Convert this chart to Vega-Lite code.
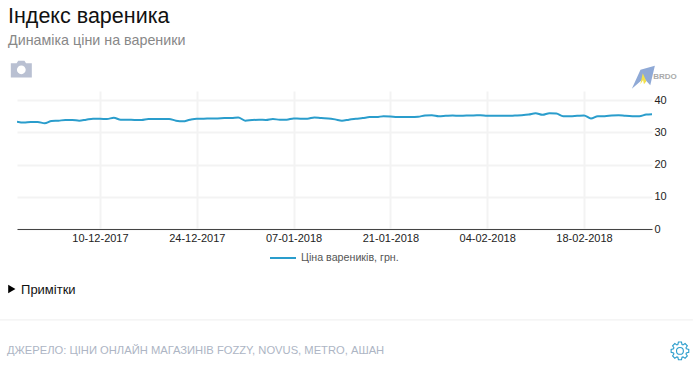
{
"$schema":"https://vega.github.io/schema/vega-lite/v6.json",
"width":635,"height":138,
"autosize":{"type":"none"},
"padding":{"left":17,"top":91,"right":41,"bottom":137},
"background":"white",
"config":{"view":{"stroke":null},"font":"Liberation Sans"},
"title":{"text":"Індекс вареника","subtitle":"Динаміка ціни на вареники","anchor":"start","frame":"group","dx":-9,"offset":12,"font":"Liberation Sans","fontSize":21.5,"fontWeight":"normal","color":"#111111","subtitleFont":"Liberation Sans","subtitleFontSize":14.3,"subtitleColor":"#888888","subtitlePadding":7},
"datasets":{"prices":[
{"date":"2017-11-28","price":33.3},{"date":"2017-11-29","price":33.0},{"date":"2017-11-30","price":33.2},{"date":"2017-12-01","price":33.2},{"date":"2017-12-02","price":32.8},{"date":"2017-12-03","price":33.5},{"date":"2017-12-04","price":33.6},{"date":"2017-12-05","price":33.8},{"date":"2017-12-06","price":33.8},{"date":"2017-12-07","price":33.6},{"date":"2017-12-08","price":33.9},{"date":"2017-12-09","price":34.2},{"date":"2017-12-10","price":34.2},{"date":"2017-12-11","price":34.1},{"date":"2017-12-12","price":34.5},{"date":"2017-12-13","price":33.9},{"date":"2017-12-14","price":33.9},{"date":"2017-12-15","price":33.8},{"date":"2017-12-16","price":33.8},{"date":"2017-12-17","price":34.1},{"date":"2017-12-18","price":34.1},{"date":"2017-12-19","price":34.1},{"date":"2017-12-20","price":34.1},{"date":"2017-12-21","price":33.6},{"date":"2017-12-22","price":33.4},{"date":"2017-12-23","price":33.9},{"date":"2017-12-24","price":34.2},{"date":"2017-12-25","price":34.2},{"date":"2017-12-26","price":34.3},{"date":"2017-12-27","price":34.3},{"date":"2017-12-28","price":34.4},{"date":"2017-12-29","price":34.4},{"date":"2017-12-30","price":34.6},{"date":"2017-12-31","price":33.6},{"date":"2018-01-01","price":33.8},{"date":"2018-01-02","price":33.9},{"date":"2018-01-03","price":33.8},{"date":"2018-01-04","price":34.1},{"date":"2018-01-05","price":33.9},{"date":"2018-01-06","price":33.9},{"date":"2018-01-07","price":34.3},{"date":"2018-01-08","price":34.2},{"date":"2018-01-09","price":34.2},{"date":"2018-01-10","price":34.6},{"date":"2018-01-11","price":34.4},{"date":"2018-01-12","price":34.3},{"date":"2018-01-13","price":34.0},{"date":"2018-01-14","price":33.6},{"date":"2018-01-15","price":33.9},{"date":"2018-01-16","price":34.2},{"date":"2018-01-17","price":34.4},{"date":"2018-01-18","price":34.7},{"date":"2018-01-19","price":34.7},{"date":"2018-01-20","price":35.0},{"date":"2018-01-21","price":34.9},{"date":"2018-01-22","price":34.7},{"date":"2018-01-23","price":34.7},{"date":"2018-01-24","price":34.7},{"date":"2018-01-25","price":34.8},{"date":"2018-01-26","price":35.2},{"date":"2018-01-27","price":35.3},{"date":"2018-01-28","price":35.0},{"date":"2018-01-29","price":35.1},{"date":"2018-01-30","price":35.2},{"date":"2018-01-31","price":35.1},{"date":"2018-02-01","price":35.2},{"date":"2018-02-02","price":35.2},{"date":"2018-02-03","price":35.3},{"date":"2018-02-04","price":35.1},{"date":"2018-02-05","price":35.1},{"date":"2018-02-06","price":35.1},{"date":"2018-02-07","price":35.1},{"date":"2018-02-08","price":35.2},{"date":"2018-02-09","price":35.3},{"date":"2018-02-10","price":35.5},{"date":"2018-02-11","price":35.9},{"date":"2018-02-12","price":35.4},{"date":"2018-02-13","price":35.9},{"date":"2018-02-14","price":35.8},{"date":"2018-02-15","price":35.0},{"date":"2018-02-16","price":35.0},{"date":"2018-02-17","price":35.1},{"date":"2018-02-18","price":35.2},{"date":"2018-02-19","price":34.3},{"date":"2018-02-20","price":35.0},{"date":"2018-02-21","price":35.0},{"date":"2018-02-22","price":35.2},{"date":"2018-02-23","price":35.3},{"date":"2018-02-24","price":35.1},{"date":"2018-02-25","price":35.0},{"date":"2018-02-26","price":35.0},{"date":"2018-02-27","price":35.5},{"date":"2018-02-28","price":35.6}
]},
"data":{"name":"prices"},
"layer":[
{
"transform":[{"calculate":"'Ціна вареників, грн.'","as":"series"}],
"mark":{"type":"line","clip":true,"strokeWidth":2,"interpolate":"monotone"},
"encoding":{
"x":{"field":"date","type":"temporal","title":null,
"scale":{"type":"utc","domain":[{"year":2017,"month":11,"date":28,"utc":true},{"year":2018,"month":2,"date":27,"hours":20,"utc":true}]},
"axis":{"values":[{"year":2017,"month":12,"date":10,"utc":true},{"year":2017,"month":12,"date":24,"utc":true},{"year":2018,"month":1,"date":7,"utc":true},{"year":2018,"month":1,"date":21,"utc":true},{"year":2018,"month":2,"date":4,"utc":true},{"year":2018,"month":2,"date":18,"utc":true}],
"labelExpr":"utcFormat(datum.value,'%d-%m-%Y')","labelFontSize":11,"labelFont":"Liberation Sans","labelColor":"#222222","labelPadding":3,"ticks":false,"domainColor":"#444444","domainWidth":1,"grid":true,"gridColor":"#f3f3f3","gridWidth":2,"labelOverlap":false}},
"y":{"field":"price","type":"quantitative","title":null,
"scale":{"domain":[0,42.8],"nice":false},
"axis":{"orient":"right","values":[0,10,20,30,40],"tickCount":10,"labelOverlap":false,"labelFontSize":11,"labelFont":"Liberation Sans","labelColor":"#222222","labelPadding":2,"ticks":false,"domain":false,"grid":true,"gridColor":"#f3f3f3","gridWidth":2}},
"color":{"field":"series","type":"nominal","scale":{"range":["#2a9dcc"]},
"legend":{"title":null,"orient":"none","legendX":252,"legendY":153,"symbolType":"stroke","symbolSize":676,"symbolStrokeWidth":2,"labelFontSize":10.7,"labelFont":"Liberation Sans","labelColor":"#555555","labelOffset":4}}
}
},
{"data":{"values":[{}]},"mark":{"type":"rule","color":"#eeeeee","strokeWidth":1},
"encoding":{"x":{"datum":{"year":2017,"month":11,"date":25,"hours":11,"utc":true},"type":"temporal"},"x2":{"datum":{"year":2018,"month":3,"date":5,"hours":18,"utc":true}},"y":{"datum":-28.2,"type":"quantitative"}}},
{"data":{"values":[{}]},"mark":{"type":"point","filled":true,"fill":"#000000","opacity":1,"size":70,"shape":"triangle-right"},
"encoding":{"x":{"datum":{"year":2017,"month":11,"date":27,"hours":6,"utc":true},"type":"temporal"},"y":{"datum":-18.6,"type":"quantitative"}}},
{"data":{"values":[{}]},"mark":{"type":"text","text":"Примітки","align":"left","baseline":"middle","fontSize":13,"color":"#111111"},
"encoding":{"x":{"datum":{"year":2017,"month":11,"date":28,"hours":14,"utc":true},"type":"temporal"},"y":{"datum":-18.9,"type":"quantitative"}}},
{"data":{"values":[{}]},"mark":{"type":"text","text":"ДЖЕРЕЛО: ЦІНИ ОНЛАЙН МАГАЗИНІВ FOZZY, NOVUS, METRO, АШАН","align":"left","baseline":"middle","fontSize":11.2,"color":"#adb5c4"},
"encoding":{"x":{"datum":{"year":2017,"month":11,"date":26,"hours":13,"utc":true},"type":"temporal"},"y":{"datum":-37.8,"type":"quantitative"}}},
{"data":{"values":[{}]},"mark":{"type":"point","filled":true,"fill":"#b9c0d2","opacity":1,"size":441,"shape":"M-1,-0.55 L-0.45,-0.55 L-0.3,-0.8 L0.3,-0.8 L0.45,-0.55 L1,-0.55 L1,0.8 L-1,0.8 Z M0,-0.35 A0.42,0.42 0 1 0 0,0.49 A0.42,0.42 0 1 0 0,-0.35 Z"},
"encoding":{"x":{"datum":{"year":2017,"month":11,"date":28,"hours":15,"utc":true},"type":"temporal"},"y":{"datum":49.6,"type":"quantitative"}}},
{"data":{"values":[{}]},"mark":{"type":"point","filled":true,"fill":"#8fa9d6","opacity":1,"size":529,"shape":"M-1,1 L-0.25,-0.65 L1,-1 L0.6,0.7 L0.05,0.1 Z"},
"encoding":{"x":{"datum":{"year":2018,"month":2,"date":26,"hours":14,"utc":true},"type":"temporal"},"y":{"datum":47.1,"type":"quantitative"}}},
{"data":{"values":[{}]},"mark":{"type":"point","filled":true,"fill":"#f2e14c","opacity":1,"size":144,"shape":"M-0.5,0.9 L-0.1,-0.9 L0.5,0.4 L0.1,0.9 L-0.05,0.2 Z"},
"encoding":{"x":{"datum":{"year":2018,"month":2,"date":26,"hours":14,"utc":true},"type":"temporal"},"y":{"datum":46.6,"type":"quantitative"}}},
{"data":{"values":[{}]},"mark":{"type":"text","text":"BRDO","align":"left","baseline":"middle","fontSize":8,"fontWeight":"bold","color":"#aaaaaa"},
"encoding":{"x":{"datum":{"year":2018,"month":2,"date":28,"utc":true},"type":"temporal"},"y":{"datum":47.1,"type":"quantitative"}}},
{"data":{"values":[{}]},"mark":{"type":"point","filled":false,"fill":null,"stroke":"#2a9dcc","strokeWidth":1.1,"opacity":1,"size":324,"shape":"M0.71,-0.23 L0.98,-0.17 L0.98,0.17 L0.71,0.23 L0.67,0.34 L0.82,0.57 L0.57,0.82 L0.34,0.67 L0.23,0.71 L0.17,0.98 L-0.17,0.98 L-0.23,0.71 L-0.34,0.67 L-0.57,0.82 L-0.82,0.57 L-0.67,0.34 L-0.71,0.23 L-0.98,0.17 L-0.98,-0.17 L-0.71,-0.23 L-0.67,-0.34 L-0.82,-0.57 L-0.57,-0.82 L-0.34,-0.67 L-0.23,-0.71 L-0.17,-0.98 L0.17,-0.98 L0.23,-0.71 L0.34,-0.67 L0.57,-0.82 L0.82,-0.57 L0.67,-0.34 Z M0.38,0 A0.38,0.38 0 1 1 -0.38,0 A0.38,0.38 0 1 1 0.38,0 Z"},
"encoding":{"x":{"datum":{"year":2018,"month":3,"date":3,"hours":21,"utc":true},"type":"temporal"},"y":{"datum":-37.8,"type":"quantitative"}}}
]
}
